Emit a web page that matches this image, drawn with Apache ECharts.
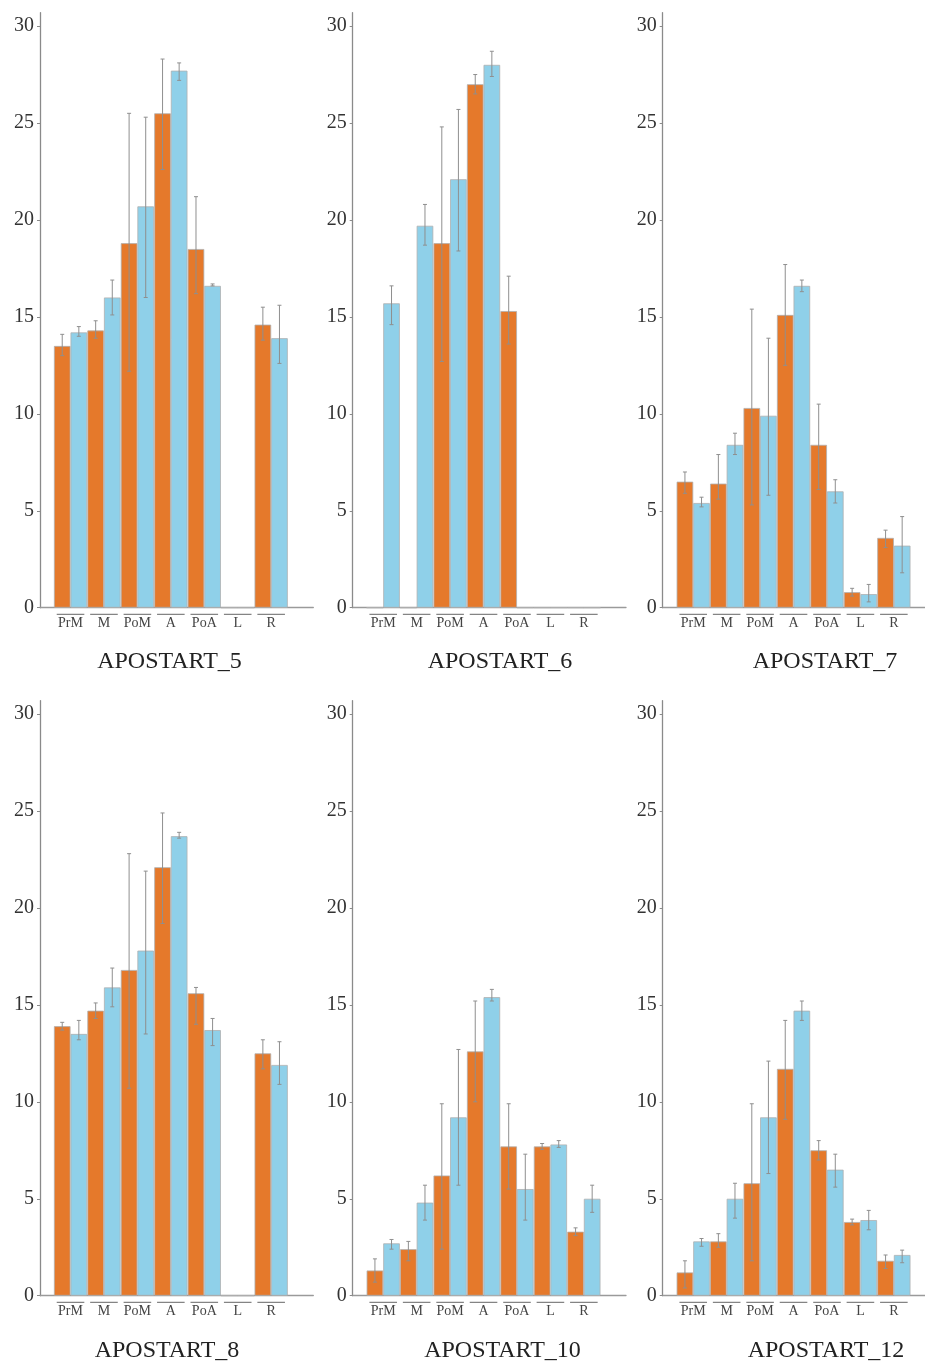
<!DOCTYPE html>
<html>
<head>
<meta charset="utf-8">
<script src="https://cdn.jsdelivr.net/npm/echarts@6/dist/echarts.min.js"></script>
<style>
  html, body { margin: 0; padding: 0; background: #fff; }
  #chart { width: 925px; height: 1363px; }
</style>
</head>
<body>
<div id="chart"></div>
<script>
const categories = ['PrM', 'M', 'PoM', 'A', 'PoA', 'L', 'R'];
const yTicks = [0, 5, 10, 15, 20, 25, 30];

// APOSTART_5
const ap5Orange = [13.5, 14.3, 18.8, 25.5, 18.5, 0, 14.6];
const ap5OrangeErr = [[13.0, 14.1], [13.9, 14.8], [12.2, 25.5], [22.6, 28.3], [16.2, 21.2], null, [13.8, 15.5]];
const ap5Blue = [14.2, 16.0, 20.7, 27.7, 16.6, 0, 13.9];
const ap5BlueErr = [[14.0, 14.5], [15.1, 16.9], [16.0, 25.3], [27.2, 28.1], [16.6, 16.7], null, [12.6, 15.6]];

// APOSTART_6
const ap6Orange = [0, 0, 18.8, 27.0, 15.3, 0, 0];
const ap6OrangeErr = [null, null, [12.7, 24.8], [26.5, 27.5], [13.6, 17.1], null, null];
const ap6Blue = [15.7, 19.7, 22.1, 28.0, 0, 0, 0];
const ap6BlueErr = [[14.6, 16.6], [18.7, 20.8], [18.4, 25.7], [27.4, 28.7], null, null, null];

// APOSTART_7
const ap7Orange = [6.5, 6.4, 10.3, 15.1, 8.4, 0.8, 3.6];
const ap7OrangeErr = [[5.9, 7.0], [5.6, 7.9], [5.3, 15.4], [12.5, 17.7], [6.1, 10.5], [0.6, 1.0], [3.1, 4.0]];
const ap7Blue = [5.4, 8.4, 9.9, 16.6, 6.0, 0.7, 3.2];
const ap7BlueErr = [[5.2, 5.7], [7.9, 9.0], [5.8, 13.9], [16.3, 16.9], [5.4, 6.6], [0.3, 1.2], [1.8, 4.7]];

// APOSTART_8
const ap8Orange = [13.9, 14.7, 16.8, 22.1, 15.6, 0, 12.5];
const ap8OrangeErr = [[13.7, 14.1], [14.3, 15.1], [10.7, 22.8], [19.2, 24.9], [14.0, 15.9], null, [11.7, 13.2]];
const ap8Blue = [13.5, 15.9, 17.8, 23.7, 13.7, 0, 11.9];
const ap8BlueErr = [[13.2, 14.2], [14.9, 16.9], [13.5, 21.9], [23.6, 23.9], [12.9, 14.3], null, [10.9, 13.1]];

// APOSTART_10
const ap10Orange = [1.3, 2.4, 6.2, 12.6, 7.7, 7.7, 3.3];
const ap10OrangeErr = [[0.7, 1.9], [1.8, 2.8], [2.4, 9.9], [10.0, 15.2], [5.5, 9.9], [7.55, 7.85], [3.1, 3.5]];
const ap10Blue = [2.7, 4.8, 9.2, 15.4, 5.5, 7.8, 5.0];
const ap10BlueErr = [[2.4, 2.9], [3.9, 5.7], [5.7, 12.7], [15.2, 15.8], [3.9, 7.3], [7.65, 8.0], [4.3, 5.7]];

// APOSTART_12
const ap12Orange = [1.2, 2.8, 5.8, 11.7, 7.5, 3.8, 1.8];
const ap12OrangeErr = [[0.4, 1.8], [2.5, 3.2], [1.8, 9.9], [9.1, 14.2], [7.0, 8.0], [3.65, 3.95], [1.4, 2.1]];
const ap12Blue = [2.8, 5.0, 9.2, 14.7, 6.5, 3.9, 2.1];
const ap12BlueErr = [[2.55, 2.95], [4.0, 5.8], [6.3, 12.1], [14.2, 15.2], [5.6, 7.3], [3.4, 4.4], [1.7, 2.35]];

const panels = [
  { title: 'APOSTART_5', orange: ap5Orange, orangeErr: ap5OrangeErr, blue: ap5Blue, blueErr: ap5BlueErr },
  { title: 'APOSTART_6', orange: ap6Orange, orangeErr: ap6OrangeErr, blue: ap6Blue, blueErr: ap6BlueErr },
  { title: 'APOSTART_7', orange: ap7Orange, orangeErr: ap7OrangeErr, blue: ap7Blue, blueErr: ap7BlueErr },
  { title: 'APOSTART_8', orange: ap8Orange, orangeErr: ap8OrangeErr, blue: ap8Blue, blueErr: ap8BlueErr },
  { title: 'APOSTART_10', orange: ap10Orange, orangeErr: ap10OrangeErr, blue: ap10Blue, blueErr: ap10BlueErr },
  { title: 'APOSTART_12', orange: ap12Orange, orangeErr: ap12OrangeErr, blue: ap12Blue, blueErr: ap12BlueErr }
];

const ORANGE = '#e5792b';
const BLUE = '#8fd0e9';
const FONT = '"Liberation Serif", "DejaVu Serif", serif';

// layout of the 2x3 panels
const axisLefts = [40, 352.7, 662.7];
const rowTops = [12.7, 700.7];
const titleX = [[164.5, 495, 820], [162, 497.5, 821]];
const titleTop = [645, 1334];
const Y_MAX = 30.69;
const X_MIN = -0.913;
const X_MAX = 7.26;
const BAR_W = 16.6;

const chart = echarts.init(document.getElementById('chart'));

function errorSeries(errs, offset, idx) {
  const data = [];
  errs.forEach((e, k) => { if (e) data.push([k, e[0], e[1]]); });
  return {
    type: 'custom',
    xAxisIndex: idx,
    yAxisIndex: idx,
    silent: true,
    clip: false,
    z: 5,
    encode: { x: 0, y: [1, 2] },
    data: data,
    renderItem: function (params, api) {
      const x = api.value(0);
      const lo = api.coord([x, api.value(1)]);
      const hi = api.coord([x, api.value(2)]);
      const cx = lo[0] + offset;
      const st = { stroke: '#8f8f8f', lineWidth: 1 };
      return {
        type: 'group',
        children: [
          { type: 'line', shape: { x1: cx, y1: lo[1], x2: cx, y2: hi[1] }, style: st },
          { type: 'line', shape: { x1: cx - 2, y1: lo[1], x2: cx + 2, y2: lo[1] }, style: st },
          { type: 'line', shape: { x1: cx - 2, y1: hi[1], x2: cx + 2, y2: hi[1] }, style: st }
        ]
      };
    }
  };
}

const grid = [], xAxis = [], yAxis = [], series = [], title = [];

panels.forEach((p, i) => {
  const row = Math.floor(i / 3), col = i % 3;
  grid.push({
    left: axisLefts[col], top: rowTops[row], width: 273.3, height: 595,
    outerBoundsMode: 'none', containLabel: false
  });
  xAxis.push({
    type: 'value', gridIndex: i, min: X_MIN, max: X_MAX,
    splitLine: { show: false },
    axisTick: { show: false },
    axisLine: { onZero: false, lineStyle: { color: '#9a9a9a', width: 1.3 } },
    axisLabel: {
      customValues: [0, 1, 2, 3, 4, 5, 6],
      formatter: v => categories[Math.round(v)],
      margin: 9, fontFamily: FONT, fontSize: 14, color: '#444'
    }
  });
  yAxis.push({
    type: 'value', gridIndex: i, min: 0, max: Y_MAX,
    splitLine: { show: false },
    axisLine: { show: true, onZero: false, lineStyle: { color: '#8a8a8a', width: 1.3 } },
    axisTick: { show: true, length: 3, customValues: yTicks, lineStyle: { color: '#8a8a8a' } },
    axisLabel: {
      customValues: yTicks, margin: 6, padding: [3, 0, 0, 0],
      fontFamily: FONT, fontSize: 20, color: '#333'
    }
  });
  const barStyle = c => ({ color: c, borderColor: '#b0b0b0', borderWidth: 0.8 });
  series.push({
    type: 'bar', xAxisIndex: i, yAxisIndex: i, barWidth: BAR_W, barGap: '0%',
    itemStyle: barStyle(ORANGE), silent: true,
    data: p.orange.map((v, k) => [k, v])
  });
  series.push({
    type: 'bar', xAxisIndex: i, yAxisIndex: i, barWidth: BAR_W, barGap: '0%',
    itemStyle: barStyle(BLUE), silent: true,
    data: p.blue.map((v, k) => [k, v])
  });
  series.push(errorSeries(p.orangeErr, -BAR_W / 2, i));
  series.push(errorSeries(p.blueErr, BAR_W / 2, i));
  // short lines above the category names
  series.push({
    type: 'custom', xAxisIndex: i, yAxisIndex: i, silent: true, clip: false,
    data: categories.map((c, k) => [k, 0]),
    renderItem: function (params, api) {
      const pt = api.coord([api.value(0), 0]);
      return {
        type: 'line',
        shape: { x1: pt[0] - 13.8, y1: pt[1] + 6.6, x2: pt[0] + 13.8, y2: pt[1] + 6.6 },
        style: { stroke: '#666', lineWidth: 1 }
      };
    }
  });
  title.push({
    text: p.title, left: titleX[row][col], top: titleTop[row], textAlign: 'center',
    textStyle: { fontFamily: FONT, fontSize: 24, fontWeight: 'normal', color: '#222' }
  });
});

chart.setOption({
  animation: false,
  backgroundColor: '#fff',
  title: title,
  grid: grid,
  xAxis: xAxis,
  yAxis: yAxis,
  series: series
});
</script>
</body>
</html>
